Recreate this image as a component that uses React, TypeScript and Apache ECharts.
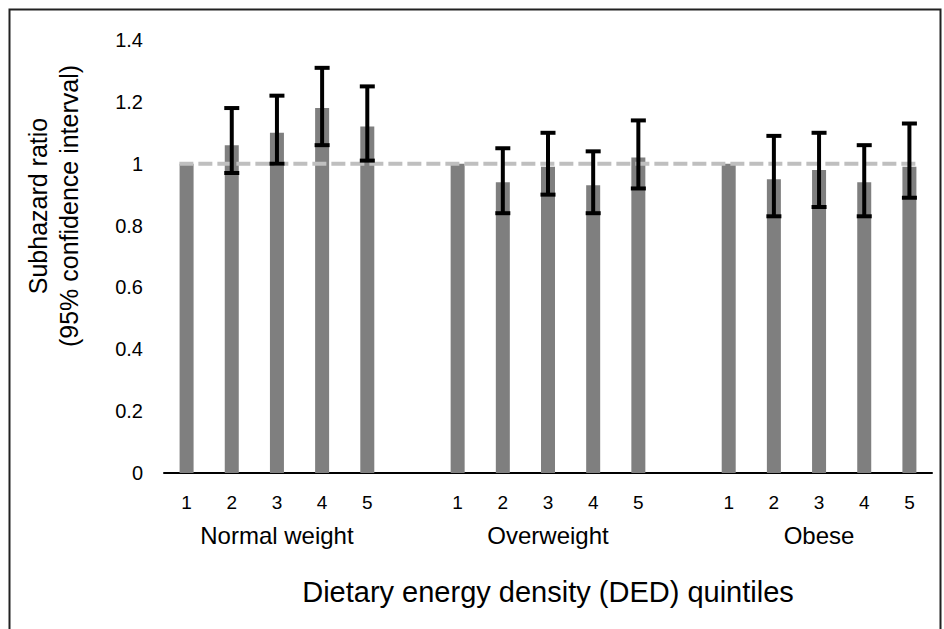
import React, { useEffect, useRef } from "react";
import * as echarts from "echarts";

const groups = ["Normal weight", "Overweight", "Obese"];
const quintiles = ["1", "2", "3", "4", "5"];

const normalHR = [1, 1.06, 1.1, 1.18, 1.12];
const normalLow = [null, 0.97, 1.0, 1.06, 1.01];
const normalHigh = [null, 1.18, 1.22, 1.31, 1.25];

const overHR = [1, 0.94, 0.99, 0.93, 1.02];
const overLow = [null, 0.84, 0.9, 0.84, 0.92];
const overHigh = [null, 1.05, 1.1, 1.04, 1.14];

const obeseHR = [1, 0.95, 0.98, 0.94, 0.99];
const obeseLow = [null, 0.83, 0.86, 0.83, 0.89];
const obeseHigh = [null, 1.09, 1.1, 1.06, 1.13];

const referenceValue = 1;
const yTicks = { min: 0, max: 1.4, interval: 0.2 };

const FONT = "'Liberation Sans', Arial, Helvetica, sans-serif";

export default function App() {
  const ref = useRef<HTMLDivElement>(null);

  useEffect(() => {
    if (!ref.current) return;
    const chart = echarts.init(ref.current, undefined, { renderer: "svg" });

    const hrs = [normalHR, overHR, obeseHR];
    const lows = [normalLow, overLow, obeseLow];
    const highs = [normalHigh, overHigh, obeseHigh];

    const categories: string[] = [];
    const groupLabelAt: Record<string, string> = {};
    const barData: any[] = [];
    const errData: any[] = [];
    groups.forEach((g, gi) => {
      if (gi > 0) {
        categories.push("gap" + gi);
        barData.push("-");
      }
      quintiles.forEach((q, qi) => {
        const key = g + "|" + q;
        categories.push(key);
        const idx = categories.length - 1;
        barData.push(hrs[gi][qi]);
        if (lows[gi][qi] != null && highs[gi][qi] != null) {
          errData.push([idx, lows[gi][qi], highs[gi][qi]]);
        }
        if (qi === 2) groupLabelAt[key] = g;
      });
    });
    const n = categories.length;

    const option: any = {
      animation: false,
      backgroundColor: "#ffffff",
      grid: { left: 164, right: 12, top: 40, bottom: 156, containLabel: false },
      xAxis: [
        {
          type: "category",
          data: categories,
          position: "bottom",
          axisLine: { show: true, lineStyle: { color: "#000", width: 2 } },
          axisTick: { show: false },
          axisLabel: {
            interval: 0,
            margin: 20,
            fontSize: 19,
            fontFamily: FONT,
            color: "#000",
            formatter: (v: string) => (v.indexOf("|") >= 0 ? v.split("|")[1] : ""),
          },
          name: "Dietary energy density (DED) quintiles",
          nameLocation: "middle",
          nameGap: 104,
          nameTextStyle: { fontSize: 29, fontFamily: FONT, color: "#000" },
        },
        {
          type: "category",
          data: categories,
          position: "bottom",
          axisLine: { show: false },
          axisTick: { show: false },
          axisLabel: {
            interval: 0,
            margin: 50,
            fontSize: 24,
            fontFamily: FONT,
            color: "#000",
            formatter: (v: string) => groupLabelAt[v] || "",
          },
        },
        {
          type: "value",
          min: -0.5,
          max: n - 0.5,
          show: false,
        },
      ],
      yAxis: {
        type: "value",
        min: yTicks.min,
        max: yTicks.max,
        interval: yTicks.interval,
        axisLine: { show: false },
        axisTick: { show: false },
        splitLine: { show: false },
        axisLabel: { margin: 21, fontSize: 20, fontFamily: FONT, color: "#000" },
      },
      graphic: [
        {
          type: "rect",
          shape: { x: 9.5, y: 9.5, width: 931, height: 700 },
          style: { fill: "none", stroke: "#222", lineWidth: 2 },
          silent: true,
        },
        {
          type: "text",
          x: 53,
          y: 206,
          rotation: Math.PI / 2,
          style: {
            text: "Subhazard ratio\n(95% confidence interval)",
            fontSize: 25,
            lineHeight: 31,
            fontFamily: FONT,
            fill: "#000",
            align: "center",
            verticalAlign: "middle",
          },
        },
      ],
      series: [
        {
          type: "bar",
          xAxisIndex: 0,
          data: barData,
          barWidth: 14,
          itemStyle: { color: "#7f7f7f" },
          z: 2,
        },
        {
          type: "line",
          xAxisIndex: 2,
          data: [
            [-0.16, referenceValue],
            [n - 1 + 0.16, referenceValue],
          ],
          symbol: "none",
          lineStyle: { color: "#bfbfbf", width: 4, type: [14, 5] },
          z: 3,
          silent: true,
        },
        {
          type: "custom",
          xAxisIndex: 0,
          data: errData,
          encode: { x: 0, y: [1, 2] },
          z: 4,
          renderItem: (params: any, api: any) => {
            const i = api.value(0);
            const lo = api.coord([i, api.value(1)]);
            const hi = api.coord([i, api.value(2)]);
            const half = 7.5;
            const style = { stroke: "#000", lineWidth: 4 };
            return {
              type: "group",
              children: [
                { type: "line", shape: { x1: lo[0], y1: lo[1], x2: hi[0], y2: hi[1] }, style },
                { type: "line", shape: { x1: hi[0] - half, y1: hi[1], x2: hi[0] + half, y2: hi[1] }, style },
                { type: "line", shape: { x1: lo[0] - half, y1: lo[1], x2: lo[0] + half, y2: lo[1] }, style },
              ],
            };
          },
        },
      ],
    };

    chart.setOption(option);
    return () => chart.dispose();
  }, []);

  return (
    <div
      ref={ref}
      style={{ position: "absolute", left: 0, top: 0, width: 944, height: 629, background: "#fff" }}
    />
  );
}
